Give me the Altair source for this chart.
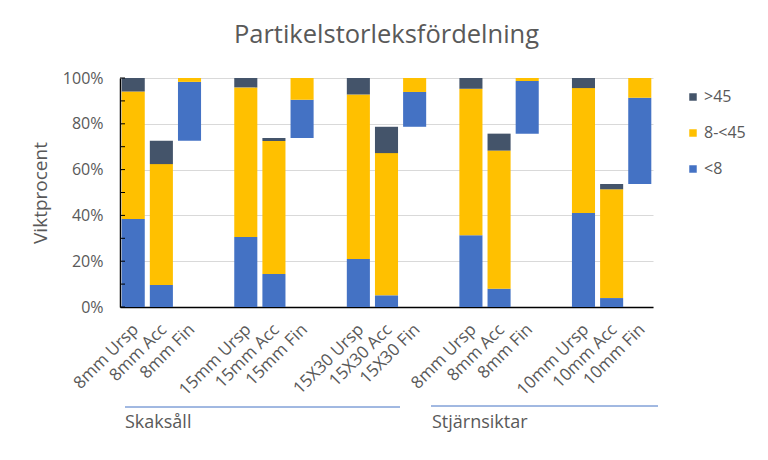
import json
import altair as alt
import pandas as pd

# ---- data ----
categories = ["8mm Ursp", "8mm Acc", "8mm Fin", "",
              "15mm Ursp", "15mm Acc", "15mm Fin", "",
              "15X30 Ursp", "15X30 Acc", "15X30 Fin", "",
              "8mm Ursp", "8mm Acc", "8mm Fin", "",
              "10mm Ursp", "10mm Acc", "10mm Fin"]
bar_slots = [0, 1, 2, 4, 5, 6, 8, 9, 10, 12, 13, 14, 16, 17, 18]
base = [0, 0, 72.6, 0, 0, 73.8, 0, 0, 78.7, 0, 0, 75.7, 0, 0, 53.7]
lt8 = [38.4, 9.6, 25.7, 30.6, 14.4, 16.7, 21.0, 5.1, 15.2, 31.3, 8.0, 23.0, 41.0, 3.9, 37.7]
mid = [55.7, 52.8, 1.7, 65.3, 58.1, 9.5, 71.8, 62.1, 6.1, 64.0, 60.3, 1.3, 54.6, 47.5, 8.6]
gt45 = [5.9, 10.2, 0, 4.1, 1.3, 0, 7.2, 11.5, 0, 4.7, 7.4, 0, 4.4, 2.3, 0]
series = ["<8", "8-<45", ">45"]
colors = ["#4472C4", "#FFC000", "#44546A"]
groups = ["Skaksåll", "Stjärnsiktar"]
major_ticks = [0, 20, 40, 60, 80, 100]
minor_ticks = [0, 10, 20, 30, 40, 50, 60, 70, 80, 90, 100]

FONT = "Open Sans"
TXT = "#595959"

rows = []
for i, slot in enumerate(bar_slots):
    lo = base[i]
    for name, vals in zip(series, [lt8, mid, gt45]):
        v = vals[i]
        if v > 0:
            rows.append({"idx": slot, "cls": name, "y0": lo, "y1": lo + v})
        lo += v
df = pd.DataFrame(rows)

label_expr = json.dumps(categories) + "[datum.value]"

xscale = alt.Scale(domain=list(range(len(categories))), paddingInner=0.18, paddingOuter=0.06)
yscale = alt.Scale(domain=[0, 100], nice=False)

bars = alt.Chart(df).mark_bar().encode(
    x=alt.X("idx:O", scale=xscale, title=None,
            axis=alt.Axis(labelExpr=label_expr, labelAngle=-45, labelAlign="right",
                          labelBaseline="top", labelPadding=14, labelOffset=-3, ticks=False,
                          labelFont=FONT, labelFontSize=17, labelColor=TXT,
                          domainColor="black", domainWidth=1.5, grid=False)),
    y=alt.Y("y0:Q", scale=yscale, title="Viktprocent",
            axis=alt.Axis(values=major_ticks, labelExpr="datum.value + '%'",
                          ticks=False, labelPadding=17, labelFont=FONT, labelFontSize=16,
                          labelColor=TXT, titleFont=FONT, titleFontSize=19,
                          titleFontWeight="normal", titleColor=TXT, titlePadding=12,
                          domainColor="black", domainWidth=1.5,
                          gridColor="#D9D9D9", gridWidth=1)),
    y2="y1:Q",
    color=alt.Color("cls:N", scale=alt.Scale(domain=series[::-1], range=colors[::-1]),
                    title=None,
                    legend=alt.Legend(orient="none", legendX=565, legendY=11,
                                      symbolType="square", symbolSize=56, symbolStrokeWidth=0,
                                      labelFont=FONT, labelFontSize=16, labelColor=TXT,
                                      labelOffset=3, rowPadding=20, padding=0)),
)

tick_df = pd.DataFrame({"t": minor_ticks})
minor = alt.Chart(tick_df).mark_rule(color="black", strokeWidth=1).encode(
    y=alt.Y("t:Q", scale=yscale),
    x=alt.value(0), x2=alt.value(5),
)

one = pd.DataFrame({"a": [0]})
line1 = alt.Chart(one).mark_rule(color="#4472C4", strokeWidth=1).encode(
    x=alt.value(5), x2=alt.value(280), y=alt.value(329))
line2 = alt.Chart(one).mark_rule(color="#4472C4", strokeWidth=1).encode(
    x=alt.value(311), x2=alt.value(538), y=alt.value(328))
txt1 = alt.Chart(pd.DataFrame({"g": [groups[0]]})).mark_text(
    align="left", baseline="alphabetic", font=FONT, fontSize=18, color=TXT).encode(
    text="g:N", x=alt.value(5), y=alt.value(350))
txt2 = alt.Chart(pd.DataFrame({"g": [groups[1]]})).mark_text(
    align="left", baseline="alphabetic", font=FONT, fontSize=18, color=TXT).encode(
    text="g:N", x=alt.value(312), y=alt.value(350))

chart = alt.layer(bars, minor, line1, line2, txt1, txt2).properties(
    width=533, height=229,
    title=alt.Title("Partikelstorleksfördelning", font=FONT, fontSize=25.5,
                    fontWeight="normal", color=TXT, anchor="middle", frame="group",
                    baseline="bottom", offset=-3),
    autosize=alt.AutoSizeParams(type="none"),
    padding={"left": 112, "top": 70, "right": 107, "bottom": 145},
).configure_view(stroke=None)

chart.save("out.html", embed_options={"renderer": "svg", "actions": False})
